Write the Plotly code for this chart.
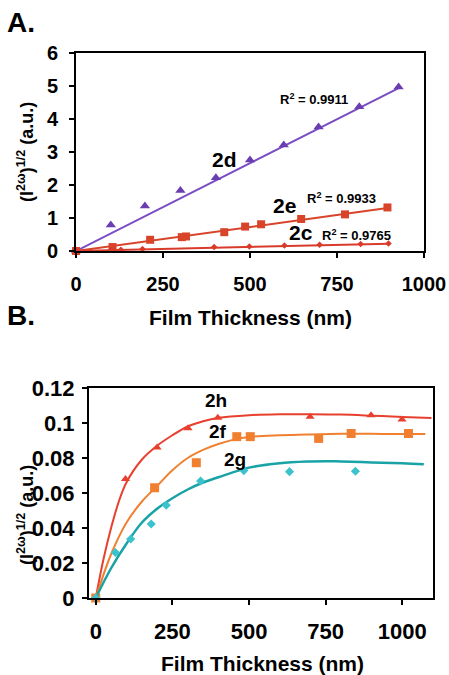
import plotly.graph_objects as go

# ---------------- Panel A data ----------------
d2_x = [0, 100, 198, 300, 402, 500, 597, 697, 814, 927]
d2_y = [0, 0.79, 1.36, 1.83, 2.22, 2.76, 3.21, 3.76, 4.37, 4.97]
d2_fit_x = [0, 930]
d2_fit_y = [0, 4.95]

e2_x = [0, 105, 213, 304, 316, 426, 486, 532, 647, 773, 895]
e2_y = [0, 0.12, 0.34, 0.42, 0.44, 0.57, 0.74, 0.81, 0.97, 1.11, 1.32]
e2_fit_x = [0, 900]
e2_fit_y = [0, 1.31]

c2_x = [0, 100, 129, 191, 397, 498, 599, 700, 818, 898]
c2_y = [0, 0.03, 0.04, 0.06, 0.12, 0.14, 0.17, 0.19, 0.21, 0.23]
c2_fit_x = [0, 900]
c2_fit_y = [0, 0.22]

# ---------------- Panel B data ----------------
h2_x = [0, 97, 200, 301, 398, 699, 898, 999]
h2_y = [0, 0.068, 0.086, 0.097, 0.103, 0.1036, 0.1044, 0.102]
h2_curve_x = [0, 25, 50, 75, 100, 150, 200, 250, 300, 350, 400, 500, 600, 700, 800, 900, 1000, 1095]
h2_curve_y = [0, 0.022, 0.040, 0.055, 0.066, 0.079, 0.087, 0.093, 0.098, 0.101, 0.103, 0.1045, 0.105, 0.105, 0.1048, 0.1042, 0.1035, 0.1028]

f2_x = [0, 192, 328, 460, 504, 727, 833, 1020]
f2_y = [0, 0.063, 0.0773, 0.0922, 0.0922, 0.0912, 0.094, 0.094]
f2_curve_x = [0, 50, 100, 150, 200, 250, 300, 350, 400, 450, 500, 600, 700, 800, 900, 1000, 1075]
f2_curve_y = [0, 0.025, 0.043, 0.055, 0.064, 0.073, 0.080, 0.0846, 0.088, 0.0905, 0.092, 0.093, 0.0935, 0.0938, 0.0938, 0.0937, 0.0937]

g2_x = [0, 64, 114, 181, 230, 342, 483, 632, 847]
g2_y = [0, 0.026, 0.0337, 0.0423, 0.053, 0.0669, 0.0728, 0.0722, 0.0724]
g2_curve_x = [0, 50, 100, 150, 200, 250, 300, 350, 400, 500, 600, 700, 750, 800, 900, 1000, 1070]
g2_curve_y = [0, 0.017, 0.031, 0.043, 0.051, 0.057, 0.062, 0.066, 0.069, 0.0745, 0.077, 0.078, 0.0782, 0.078, 0.0775, 0.077, 0.0764]

xticks_a = [0, 250, 500, 750, 1000]
yticks_a = [0, 1, 2, 3, 4, 5, 6]
xticks_b = [0, 250, 500, 750, 1000]
yticks_b = [0, 0.02, 0.04, 0.06, 0.08, 0.1, 0.12]
ytick_b_labels = ["0", "0.02", "0.04", "0.06", "0.08", "0.1", "0.12"]

PURPLE = "#7a4cc4"
RED_E = "#d8442a"
RED_C = "#d93b2a"
RED_H = "#e8402e"
ORANGE = "#f08030"
TEAL = "#1aa3a6"
CYAN = "#3cc2cc"

FONT = "Liberation Sans"
W, H = 449, 675

fig = go.Figure()

def add(x, y, xa, ya, color, mode, symbol=None, size=8, width=2, mcolor=None, shape="linear"):
    kw = dict(x=x, y=y, xaxis=xa, yaxis=ya, mode=mode, showlegend=False,
              cliponaxis=False, hoverinfo="skip")
    if "lines" in mode:
        kw["line"] = dict(color=color, width=width, shape=shape)
    if "markers" in mode:
        kw["marker"] = dict(symbol=symbol, size=size, color=mcolor or color)
    fig.add_trace(go.Scatter(**kw))

# Panel A
add(d2_fit_x, d2_fit_y, "x", "y", PURPLE, "lines", width=2)
add(d2_x, d2_y, "x", "y", PURPLE, "markers", "triangle-up", 9, mcolor="#6a3eb0")
add(e2_fit_x, e2_fit_y, "x", "y", RED_E, "lines", width=2)
add(e2_x, e2_y, "x", "y", RED_E, "markers", "square", 8)
add(c2_fit_x, c2_fit_y, "x", "y", RED_C, "lines", width=2)
add(c2_x, c2_y, "x", "y", RED_C, "markers", "diamond", 5)

# Panel B
add(h2_curve_x, h2_curve_y, "x2", "y2", RED_H, "lines", width=2, shape="spline")
add(h2_x, h2_y, "x2", "y2", RED_H, "markers", "triangle-up", 8)
add(f2_curve_x, f2_curve_y, "x2", "y2", ORANGE, "lines", width=2, shape="spline")
add(f2_x, f2_y, "x2", "y2", ORANGE, "markers", "square", 9)
add(g2_curve_x, g2_curve_y, "x2", "y2", TEAL, "lines", width=2.5, shape="spline")
add(g2_x, g2_y, "x2", "y2", CYAN, "markers", "diamond", 7)

axis_common = dict(showline=True, linecolor="black", linewidth=2, mirror=True,
                   ticks="outside", ticklen=5, tickwidth=1.5, tickcolor="black",
                   showgrid=False, zeroline=False, automargin=False)

fig.update_layout(
    template="none",
    width=W, height=H,
    margin=dict(l=0, r=0, t=0, b=0, autoexpand=False),
    paper_bgcolor="white", plot_bgcolor="white",
    font=dict(family=FONT, color="black"),
    xaxis=dict(domain=[76 / W, 424 / W], range=[0, 1000], tickvals=xticks_a,
               tickfont=dict(size=20, weight="bold"), ticklabelstandoff=9, anchor="y",
               **axis_common),
    yaxis=dict(domain=[1 - 251 / H, 1 - 53 / H], range=[0, 6], tickvals=yticks_a,
               tickfont=dict(size=20, weight="bold"), ticklabelstandoff=7, anchor="x", **axis_common),
    xaxis2=dict(domain=[89 / W, 433 / W], range=[-22, 1100], tickvals=xticks_b,
                tickfont=dict(size=22, weight="bold"), ticklabelstandoff=8, anchor="y2", **axis_common),
    yaxis2=dict(domain=[1 - 598 / H, 1 - 388 / H], range=[0, 0.12], tickvals=yticks_b,
                ticktext=ytick_b_labels, tickfont=dict(size=22, weight="bold"), ticklabelstandoff=3,
                anchor="x2", **axis_common),
)

def ann(text, x, y, xref, yref, size, xanchor="center", **kw):
    fig.add_annotation(text=text, x=x, y=y, xref=xref, yref=yref, showarrow=False,
                       xanchor=xanchor, yanchor="middle",
                       font=dict(size=size, family=FONT, color="black", weight="bold"), **kw)

# panel letters & titles (paper coords)
ann("A.", 5 / W, 1 - 22 / H, "paper", "paper", 28, xanchor="left")
ann("B.", 5 / W, 1 - 315 / H, "paper", "paper", 28, xanchor="left")
ann("Film Thickness (nm)", 250 / W, 1 - 317 / H, "paper", "paper", 21)
ann("Film Thickness (nm)", 262 / W, 1 - 663 / H, "paper", "paper", 21)
ann("(I<sup>2ω</sup>)<sup>1/2</sup> (a.u.)", 26 / W, 1 - 152 / H, "paper", "paper", 18, textangle=-90)
ann("(I<sup>2ω</sup>)<sup>1/2</sup> (a.u.)", 25 / W, 1 - 515 / H, "paper", "paper", 18, textangle=-90)

# panel A labels
ann("2d", 427, 2.76, "x", "y", 21)
ann("2e", 600, 1.39, "x", "y", 21)
ann("2c", 647, 0.57, "x", "y", 21)
ann("R<sup>2</sup> = 0.9911", 685, 4.6, "x", "y", 13)
ann("R<sup>2</sup> = 0.9933", 762, 1.62, "x", "y", 13)
ann("R<sup>2</sup> = 0.9765", 805, 0.5, "x", "y", 13)

# panel B labels
ann("2h", 393, 0.113, "x2", "y2", 19)
ann("2f", 398, 0.095, "x2", "y2", 19)
ann("2g", 453, 0.079, "x2", "y2", 19)

fig.write_html("out.html", config={"displayModeBar": False},
               post_script="document.body.style.margin='0';")
